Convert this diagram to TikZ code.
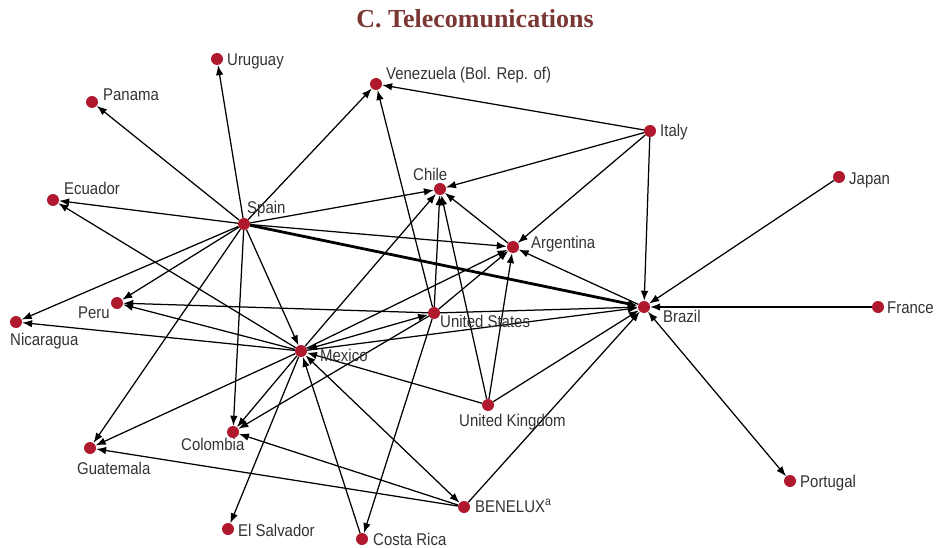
\documentclass[tikz,border=0pt]{standalone}
\usepackage{fontspec}
\setmainfont{Liberation Sans}
\newfontfamily\labelfont[FakeStretch=0.88]{Liberation Sans}
\newfontfamily\titlefont{Liberation Serif}
\usepackage{tikz}
\usetikzlibrary{calc, backgrounds, arrows.meta}
\definecolor{NodeRed}{RGB}{176, 24, 46}
\definecolor{TitleBrown}{RGB}{123, 55, 52}
\definecolor{LabelGray}{RGB}{51, 51, 51}
\tikzset{
	country/.style={circle, fill=NodeRed, inner sep=0pt, minimum size=12pt},
	cname/.style={font={\labelfont\fontsize{17pt}{20pt}\selectfont}, text=LabelGray, inner sep=0pt, anchor=base west},
	tie/.style={-{Latex[length=10pt,width=7.5pt]}, line width=1.25pt},
	twoway/.style={{Latex[length=10pt,width=7.5pt]}-{Latex[length=10pt,width=7.5pt]}, line width=1.25pt},
	heavy/.style={tie, line width=2.8pt}, % the strongest tie
}

\begin{document}
\begin{tikzpicture}[x=1pt, y=-1pt]
\useasboundingbox (0,0) rectangle (936,548);

\node[font={\titlefont\bfseries\fontsize{26pt}{30pt}\selectfont}, text=TitleBrown, anchor=base, inner sep=0pt] (title) at (475,28) {C. Telecomunications};

\node[country] (uruguay) at (217,59) {};
\node[country] (panama) at (92,102) {};
\node[country] (venezuela) at (376,84) {};
\node[country] (ecuador) at (53,200) {};
\node[country] (spain) at (244,224) {};
\node[country] (chile) at (440,189) {};
\node[country] (italy) at (650,131) {};
\node[country] (japan) at (839,177) {};
\node[country] (argentina) at (513,247) {};
\node[country] (peru) at (117,303) {};
\node[country] (nicaragua) at (16,322) {};
\node[country] (usa) at (434,313) {};
\node[country] (brazil) at (644,307) {};
\node[country] (france) at (878,307) {};
\node[country] (mexico) at (301,351) {};
\node[country] (uk) at (488,405) {};
\node[country] (colombia) at (233,432) {};
\node[country] (guatemala) at (90,448) {};
\node[country] (portugal) at (790,481) {};
\node[country] (benelux) at (464,507) {};
\node[country] (elsalvador) at (228,529) {};
\node[country] (costarica) at (362,539) {};

\node[cname] (uruguaylbl) at ($(uruguay)+(10,7)$) {Uruguay};
\node[cname] (panamalbl) at ($(panama)+(11,-1)$) {Panama};
\node[cname] (venezuelalbl) at ($(venezuela)+(10,-4)$) {Venezuela (Bol. Rep. of)};
\node[cname] (ecuadorlbl) at ($(ecuador)+(11,-6)$) {Ecuador};
\node[cname] (spainlbl) at ($(spain)+(3,-11)$) {Spain};
\node[cname] (chilelbl) at ($(chile)+(-27,-8)$) {Chile};
\node[cname] (italylbl) at ($(italy)+(10,6)$) {Italy};
\node[cname] (japanlbl) at ($(japan)+(10,7)$) {Japan};
\node[cname] (argentinalbl) at ($(argentina)+(18,1)$) {Argentina};
\node[cname] (perulbl) at ($(peru)+(-39,15)$) {Peru};
\node[cname] (nicaragualbl) at ($(nicaragua)+(-6,23)$) {Nicaragua};
\node[cname] (usalbl) at ($(usa)+(6,14)$) {United States};
\node[cname] (brazillbl) at ($(brazil)+(19,15)$) {Brazil};
\node[cname] (francelbl) at ($(france)+(9,6)$) {France};
\node[cname] (mexicolbl) at ($(mexico)+(19,10)$) {Mexico};
\node[cname] (uklbl) at ($(uk)+(-29,21)$) {United Kingdom};
\node[cname] (colombialbl) at ($(colombia)+(-52,18)$) {Colombia};
\node[cname] (guatemalalbl) at ($(guatemala)+(-13,26)$) {Guatemala};
\node[cname] (portugallbl) at ($(portugal)+(10,6)$) {Portugal};
\node[cname] (beneluxlbl) at ($(benelux)+(11,5)$) {BENELUX\textsuperscript{a}};
\node[cname] (elsalvadorlbl) at ($(elsalvador)+(10,7)$) {El Salvador};
\node[cname] (costaricalbl) at ($(costarica)+(11,6)$) {Costa Rica};

\begin{scope}[on background layer]
\draw[tie] (spain) -- (uruguay);
\draw[tie] (spain) -- (panama);
\draw[tie] (spain) -- (venezuela);
\draw[tie] (spain) -- (ecuador);
\draw[tie] (spain) -- (chile);
\draw[tie] (spain) -- (argentina);
\draw[tie] (spain) -- (nicaragua);
\draw[tie] (spain) -- (peru);
\draw[tie] (spain) -- (guatemala);
\draw[tie] (spain) -- (colombia);
\draw[tie] (spain) -- (mexico);
\draw[heavy] (spain) -- (brazil);

\draw[tie] (italy) -- (venezuela);
\draw[tie] (italy) -- (chile);
\draw[tie] (italy) -- (argentina);
\draw[tie] (italy) -- (brazil);
\draw[tie] (japan) -- (brazil);
\draw[tie] (france) -- (brazil);
\draw[twoway] (brazil) -- (portugal);
\draw[tie] (brazil) -- (argentina);
\draw[tie] (argentina) -- (chile);

\draw[tie] (usa) -- (venezuela);
\draw[tie] (usa) -- (chile);
\draw[tie] (usa) -- (argentina);
\draw[tie] (usa) -- (peru);
\draw[tie] (usa) -- (brazil);
\draw[tie] (usa) -- (colombia);
\draw[tie] (usa) -- (costarica);
\draw[twoway] (mexico) -- (usa);

\draw[tie] (mexico) -- (chile);
\draw[tie] (mexico) -- (argentina);
\draw[tie] (mexico) -- (peru);
\draw[tie] (mexico) -- (nicaragua);
\draw[tie] (mexico) -- (ecuador);
\draw[tie] (mexico) -- (guatemala);
\draw[tie] (mexico) -- (colombia);
\draw[tie] (mexico) -- (elsalvador);
\draw[tie] (mexico) -- (brazil);
\draw[twoway] (mexico) -- (benelux);

\draw[tie] (uk) -- (chile);
\draw[tie] (uk) -- (argentina);
\draw[tie] (uk) -- (brazil);
\draw[tie] (uk) -- (mexico);
\draw[tie] (benelux) -- (colombia);
\draw[tie] (benelux) -- (guatemala);
\draw[tie] (benelux) -- (brazil);
\draw[tie] (costarica) -- (mexico);
\end{scope}
\end{tikzpicture}
\end{document}
